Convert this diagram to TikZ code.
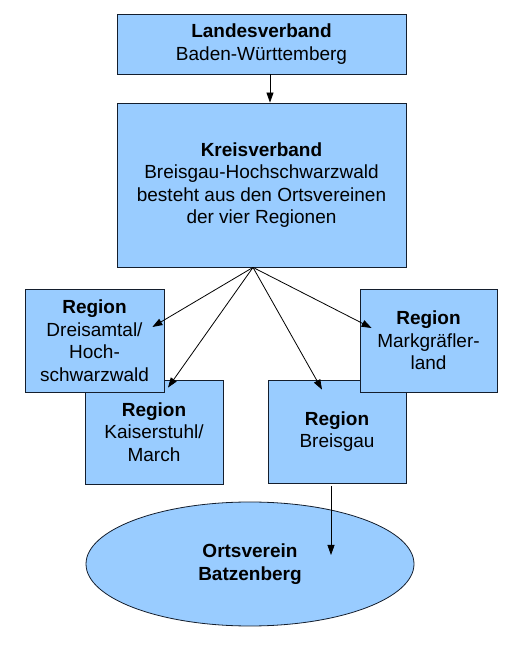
\documentclass[tikz,border=0pt]{standalone}
\usepackage{fontspec}
\setmainfont{Liberation Sans}
\usepackage{xcolor}
\definecolor{FillBlue}{RGB}{153,204,255}
\definecolor{BorderDark}{RGB}{20,30,45}
\usetikzlibrary{shapes, shapes.geometric, arrows.meta, positioning, calc}
\tikzset{
  % Region / association box
  vbox/.style={
    rectangle, draw=BorderDark, line width=0.8pt,
    fill=FillBlue, align=center, inner sep=2pt,
    font=\fontsize{19}{22.5}\selectfont
  },
  % Local club ellipse
  vell/.style={
    ellipse, draw=BorderDark, line width=0.8pt,
    fill=FillBlue, align=center, inner sep=0pt,
    font=\fontsize{19}{22.5}\selectfont
  },
  % Arrows
  arr/.style={-{Triangle[length=10pt,width=7pt]}, line width=0.8pt, black},
}
\begin{document}
\begin{tikzpicture}[x=1pt, y=1pt]
  \useasboundingbox (0,0) rectangle (514,649);

  %% Associations
  \node[vbox, minimum width=289pt, minimum height=60pt]
    (landes) at (261.5,605) {\textbf{Landesverband}\\Baden-Württemberg};
  \node[vbox, minimum width=289pt, minimum height=164pt]
    (kreis) at (261.5,464)
    {\textbf{Kreisverband}\\Breisgau-Hochschwarzwald\\besteht aus den Ortsvereinen\\der vier Regionen};

  %% Regions (lower ones first)
  \node[vbox, minimum width=138pt, minimum height=104pt]
    (kaiser) at (154,217) {\textbf{Region}\\Kaiserstuhl/\\March};
  \node[vbox, minimum width=139pt, minimum height=103pt]
    (dreis) at (94.5,308.5) {\textbf{Region}\\Dreisamtal/\\Hoch-\\schwarzwald};
  \node[vbox, minimum width=138pt, minimum height=103pt]
    (breis) at (337,217.5) {\textbf{Region}\\Breisgau};
  \node[vbox, minimum width=137pt, minimum height=103pt]
    (markg) at (428.5,308.5) {\textbf{Region}\\Markgräfler-\\land};

  %% Local club
  \node[vell, minimum width=328pt, minimum height=124pt]
    (orts) at (250,85) {\textbf{Ortsverein}\\\textbf{Batzenberg}};

  %% Connectors
  \coordinate (hub) at ([xshift=-8.5pt]kreis.south);
  \coordinate (dreis tip) at ([shift={(-12,13.5)}]dreis.east);
  \coordinate (kaiser tip) at ([shift={(14,-8)}]kaiser.north);
  \coordinate (breis tip) at ([shift={(-15,-10)}]breis.north);
  \coordinate (markg tip) at ([shift={(12,12.5)}]markg.west);
  \coordinate (orts tip) at ([shift={(81,9)}]orts.center);

  \draw[arr] ([xshift=8.5pt]landes.south) -- ([xshift=8.5pt]kreis.north);
  \draw[arr] (hub) -- (dreis tip);
  \draw[arr] (hub) -- (kaiser tip);
  \draw[arr] (hub) -- (breis tip);
  \draw[arr] (hub) -- (markg tip);
  \draw[arr] ([shift={(-6,-3)}]breis.south) -- (orts tip);

\end{tikzpicture}
\end{document}
